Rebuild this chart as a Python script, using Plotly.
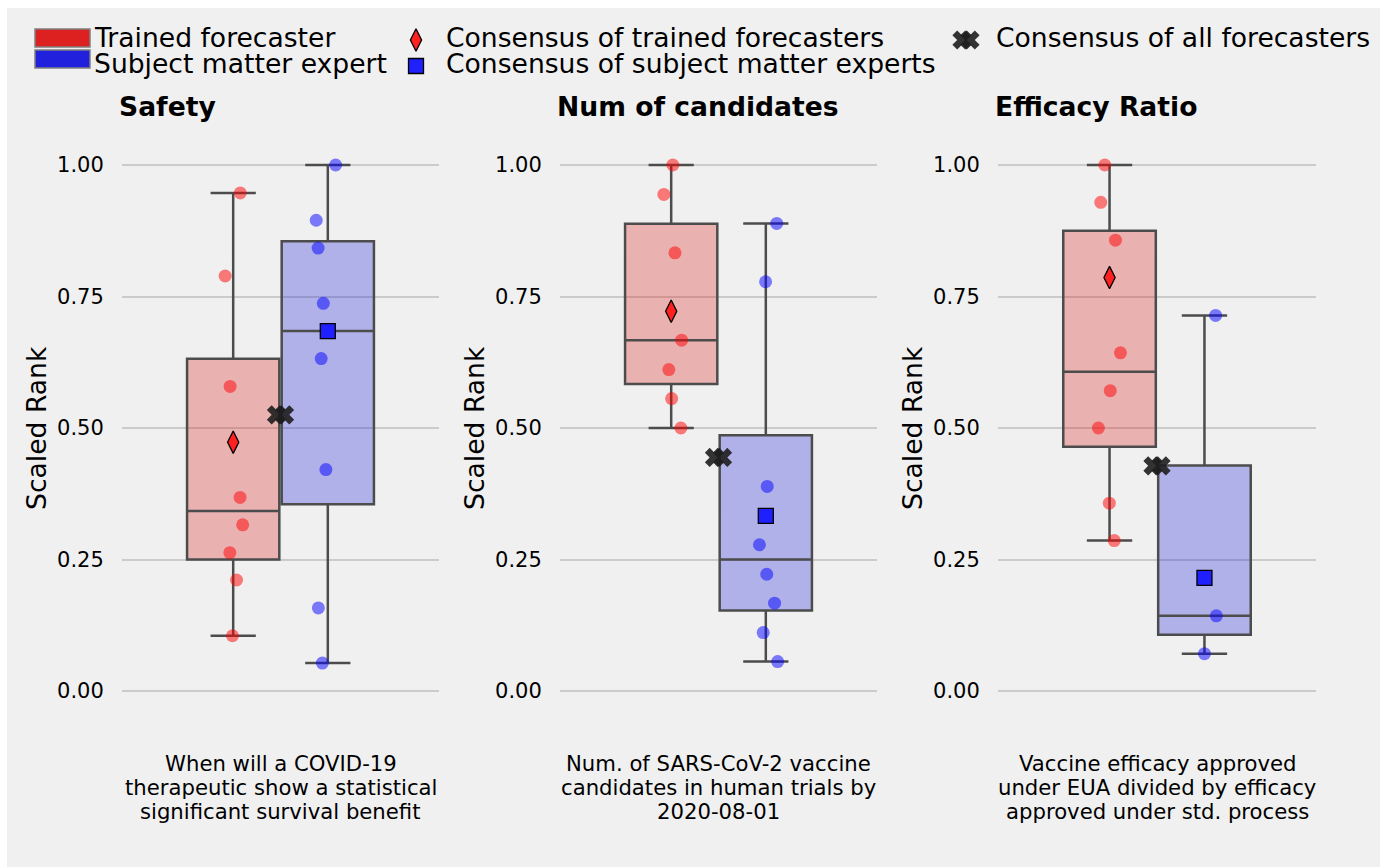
import numpy as np
import plotly.graph_objects as go

W, H = 1380, 867

# ---------------- data ----------------
PANEL_TITLES = ["Safety", "Num of candidates", "Efficacy Ratio"]
PANEL_NOTES = [
    ["When will a COVID-19", "therapeutic show a statistical", "significant survival benefit"],
    ["Num. of SARS-CoV-2 vaccine", "candidates in human trials by", "2020-08-01"],
    ["Vaccine efficacy approved", "under EUA divided by efficacy", "approved under std. process"],
]

safety_trained = [0.947, 0.789, 0.579, 0.368, 0.316, 0.263, 0.211, 0.105]
safety_trained_jitter = [0.030, -0.034, -0.013, 0.029, 0.040, -0.014, 0.014, -0.003]
safety_sme = [1.0, 0.895, 0.842, 0.737, 0.632, 0.421, 0.158, 0.053]
safety_sme_jitter = [0.033, -0.049, -0.041, -0.019, -0.028, -0.008, -0.040, -0.023]

num_trained = [1.0, 0.944, 0.833, 0.667, 0.611, 0.556, 0.5]
num_trained_jitter = [0.007, -0.031, 0.016, 0.044, -0.010, 0.002, 0.041]
num_sme = [0.889, 0.778, 0.389, 0.278, 0.222, 0.167, 0.111, 0.056]
num_sme_jitter = [0.046, -0.001, 0.006, -0.027, 0.004, 0.037, -0.011, 0.050]

eff_trained = [1.0, 0.929, 0.857, 0.643, 0.571, 0.5, 0.357, 0.286]
eff_trained_jitter = [-0.020, -0.037, 0.025, 0.046, 0.003, -0.047, -0.001, 0.020]
eff_sme = [0.714, 0.143, 0.071]
eff_sme_jitter = [0.047, 0.050, 0.0]

consensus_trained = [0.473, 0.722, 0.786]
consensus_sme = [0.684, 0.333, 0.215]
consensus_all = [0.525, 0.444, 0.428]

TRAINED = [safety_trained, num_trained, eff_trained]
TRAINED_J = [safety_trained_jitter, num_trained_jitter, eff_trained_jitter]
SME = [safety_sme, num_sme, eff_sme]
SME_J = [safety_sme_jitter, num_sme_jitter, eff_sme_jitter]

TICKS = [0, 0.25, 0.5, 0.75, 1.0]
TICK_TEXT = ["0.00", "0.25", "0.50", "0.75", "1.00"]

# ---------------- styling ----------------
FONT = "DejaVu Sans"
BG = "#F0F0F0"
BOXLINE = "rgb(76,76,76)"
RED_FILL = "rgba(221,34,34,0.3)"
BLUE_FILL = "rgba(34,34,221,0.3)"
RED_PT = "rgba(255,0,0,0.5)"
BLUE_PT = "rgba(0,0,255,0.5)"
CENTER_RED, CENTER_BLUE = -0.2, 0.2
X_OFF = 0.017
BIG = 26.6
SMALL = 21.2

PANEL_PX = [(122, 439), (560, 877), (998, 1316)]
Y_TOP_PX, Y_BOT_PX = 165, 691
px_per_unit = (Y_BOT_PX - Y_TOP_PX)
YR = [-0.05, 1.05]
y_dom = [1 - (Y_BOT_PX + 0.05 * px_per_unit) / H, 1 - (Y_TOP_PX - 0.05 * px_per_unit) / H]


def px(x):
    return x / W


def py(y):
    return 1 - y / H


def box_stats(vals):
    a = np.asarray(vals, dtype=float)
    q1, med, q3 = np.percentile(a, [25, 50, 75])
    iqr = q3 - q1
    lo = a[a >= q1 - 1.5 * iqr].min()
    hi = a[a <= q3 + 1.5 * iqr].max()
    return float(q1), float(med), float(q3), float(lo), float(hi)


fig = go.Figure()
layout = dict(
    width=W, height=H,
    margin=dict(l=0, r=0, t=0, b=0),
    paper_bgcolor="white",
    plot_bgcolor="rgba(0,0,0,0)",
    showlegend=False,
    boxmode="overlay",
    font=dict(family=FONT, color="black"),
)

annotations = []
shapes = [dict(type="rect", xref="paper", yref="paper", x0=px(7), x1=1, y0=0, y1=py(8),
               fillcolor=BG, line=dict(width=0), layer="below")]

for i in range(3):
    sfx = "" if i == 0 else str(i + 1)
    xa, ya = "x" + sfx, "y" + sfx
    x0p, x1p = PANEL_PX[i]
    span = 1.34
    layout["xaxis" + sfx] = dict(domain=[px(x0p), px(x1p)], range=[-span / 2, span / 2],
                                 showgrid=False, zeroline=False, showticklabels=False,
                                 showline=False, fixedrange=True, anchor=ya)
    layout["yaxis" + sfx] = dict(domain=y_dom, range=YR, anchor=xa,
                                 tickvals=TICKS, ticktext=TICK_TEXT,
                                 tickfont=dict(size=21, family=FONT, color="black"),
                                 ticks="outside", ticklen=13, tickcolor="rgba(0,0,0,0)",
                                 showgrid=True, gridcolor="#CBCBCB", gridwidth=2,
                                 zeroline=False, showline=False)

    for vals, fill, cx in ((TRAINED[i], RED_FILL, CENTER_RED), (SME[i], BLUE_FILL, CENTER_BLUE)):
        q1, med, q3, lo, hi = box_stats(vals)
        fig.add_trace(go.Box(x=[cx], q1=[q1], median=[med], q3=[q3],
                             lowerfence=[lo], upperfence=[hi],
                             width=0.39, fillcolor=fill,
                             line=dict(color=BOXLINE, width=2.5), boxpoints=False,
                             whiskerwidth=0.49, xaxis=xa, yaxis=ya, hoverinfo="skip"))
    fig.add_trace(go.Scatter(x=[CENTER_RED + j for j in TRAINED_J[i]], y=TRAINED[i], mode="markers",
                             marker=dict(color=RED_PT, size=13, line=dict(width=0)),
                             xaxis=xa, yaxis=ya))
    fig.add_trace(go.Scatter(x=[CENTER_BLUE + j for j in SME_J[i]], y=SME[i], mode="markers",
                             marker=dict(color=BLUE_PT, size=13, line=dict(width=0)),
                             xaxis=xa, yaxis=ya))
    fig.add_trace(go.Scatter(x=[CENTER_RED], y=[consensus_trained[i]], mode="markers",
                             marker=dict(symbol="diamond-tall", color="#FF2020", size=16,
                                         line=dict(color="black", width=1.3)),
                             xaxis=xa, yaxis=ya))
    fig.add_trace(go.Scatter(x=[CENTER_BLUE], y=[consensus_sme[i]], mode="markers",
                             marker=dict(symbol="square", color="#2020FF", size=15,
                                         line=dict(color="black", width=1.3)),
                             xaxis=xa, yaxis=ya))
    fig.add_trace(go.Scatter(x=[-X_OFF, X_OFF], y=[consensus_all[i]] * 2, mode="markers",
                             marker=dict(symbol="x", color="rgba(30,30,30,0.9)", size=17,
                                         line=dict(width=0)),
                             xaxis=xa, yaxis=ya))

    # panel title
    annotations.append(dict(text="<b>%s</b>" % PANEL_TITLES[i], xref="paper", yref="paper",
                            x=px(x0p - 5), y=py(106), xanchor="left", yanchor="middle",
                            showarrow=False, font=dict(size=BIG, family=FONT, color="black")))
    # y axis title
    annotations.append(dict(text="Scaled Rank", xref="paper", yref="paper",
                            x=px(x0p - 86), y=py(428), xanchor="center", yanchor="middle",
                            textangle=-90, showarrow=False,
                            font=dict(size=BIG, family=FONT, color="black")))
    # notes under panel
    cxp = (x0p + x1p) / 2
    for k, line in enumerate(PANEL_NOTES[i]):
        annotations.append(dict(text=line, xref="paper", yref="paper",
                                x=px(cxp), y=py(763 + 24 * k), xanchor="center", yanchor="middle",
                                showarrow=False, font=dict(size=SMALL, family=FONT, color="black")))

# ---------------- legend (manual) ----------------
layout["xaxis4"] = dict(domain=[0, 1], range=[0, W], visible=False, fixedrange=True, anchor="y4")
layout["yaxis4"] = dict(domain=[0, 1], range=[H, 0], visible=False, fixedrange=True, anchor="x4")

shapes.append(dict(type="rect", xref="paper", yref="paper", x0=px(35), x1=px(90), y0=py(47), y1=py(29),
                   fillcolor="#DD2020", line=dict(color="#808080", width=1.5)))
shapes.append(dict(type="rect", xref="paper", yref="paper", x0=px(35), x1=px(90), y0=py(68), y1=py(50),
                   fillcolor="#2020DD", line=dict(color="#808080", width=1.5)))

legend_texts = [
    ("Trained forecaster", 92, 38),
    ("Subject matter expert", 92, 63),
    ("Consensus of trained forecasters", 444, 38),
    ("Consensus of subject matter experts", 444, 63),
    ("Consensus of all forecasters", 994, 38),
]
for t, lx, ly in legend_texts:
    annotations.append(dict(text=t, xref="paper", yref="paper", x=px(lx), y=py(ly),
                            xanchor="left", yanchor="middle", showarrow=False,
                            font=dict(size=BIG, family=FONT, color="black")))

fig.add_trace(go.Scatter(x=[416], y=[40], mode="markers", xaxis="x4", yaxis="y4",
                         marker=dict(symbol="diamond-tall", color="#FF2020", size=16,
                                     line=dict(color="black", width=1.3))))
fig.add_trace(go.Scatter(x=[416], y=[66], mode="markers", xaxis="x4", yaxis="y4",
                         marker=dict(symbol="square", color="#2020FF", size=15,
                                     line=dict(color="black", width=1.3))))
fig.add_trace(go.Scatter(x=[962, 970], y=[40, 40], mode="markers", xaxis="x4", yaxis="y4",
                         marker=dict(symbol="x", color="rgba(30,30,30,0.9)", size=17,
                                     line=dict(width=0))))

layout["annotations"] = annotations
layout["shapes"] = shapes
fig.update_layout(**layout)
fig.write_html("out.html")
